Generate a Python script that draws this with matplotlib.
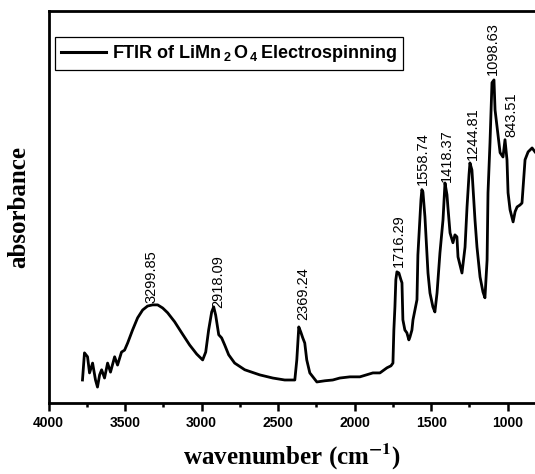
import matplotlib
matplotlib.use("Agg")
import matplotlib.pyplot as plt
from matplotlib.ticker import MultipleLocator

plt.rcParams['mathtext.fontset'] = 'custom'
plt.rcParams['mathtext.rm'] = 'Liberation Sans:bold'
plt.rcParams['mathtext.it'] = 'Liberation Sans:bold'
plt.rcParams['mathtext.bf'] = 'Liberation Sans:bold'
plt.rcParams['mathtext.default'] = 'rm'

# ---- data ----
wavenumber = [3778, 3765, 3745, 3732, 3712, 3693, 3680, 3666, 3653, 3634, 3614, 3595,
              3568, 3549, 3523, 3503, 3483, 3451, 3418, 3385, 3353, 3320, 3287, 3254,
              3222, 3176, 3130, 3078, 3032, 2993, 2973, 2954, 2934, 2921, 2908, 2888,
              2869, 2849, 2823, 2784, 2718, 2620, 2535, 2457, 2391, 2378, 2365, 2352,
              2339, 2326, 2313, 2293, 2247, 2195, 2143, 2097, 2031, 1966, 1881, 1835,
              1789, 1763, 1750, 1744, 1737, 1731, 1724, 1711, 1698, 1691, 1685, 1672,
              1659, 1646, 1639, 1626, 1619, 1606, 1593, 1587, 1574, 1567, 1561, 1554,
              1541, 1521, 1508, 1489, 1476, 1462, 1443, 1423, 1410, 1397, 1391, 1377,
              1358, 1345, 1332, 1325, 1312, 1299, 1279, 1266, 1253, 1247, 1234, 1227,
              1214, 1201, 1181, 1162, 1149, 1135, 1129, 1116, 1103, 1090, 1083, 1070,
              1050, 1031, 1018, 1005, 998, 985, 965, 952, 939, 920, 907, 887, 867, 841, 822]
absorbance = [0.061, 0.130, 0.120, 0.079, 0.104, 0.061, 0.043, 0.074, 0.087, 0.066, 0.104, 0.081,
              0.120, 0.099, 0.132, 0.137, 0.155, 0.188, 0.219, 0.239, 0.249, 0.252, 0.252, 0.244,
              0.232, 0.209, 0.181, 0.150, 0.127, 0.112, 0.132, 0.188, 0.234, 0.247, 0.226, 0.176,
              0.168, 0.150, 0.125, 0.104, 0.087, 0.074, 0.066, 0.061, 0.061, 0.112, 0.196, 0.183,
              0.168, 0.155, 0.112, 0.079, 0.056, 0.059, 0.061, 0.066, 0.069, 0.069, 0.079, 0.079,
              0.092, 0.097, 0.104, 0.188, 0.247, 0.316, 0.336, 0.333, 0.316, 0.308, 0.214, 0.188,
              0.181, 0.163, 0.170, 0.188, 0.214, 0.239, 0.265, 0.379, 0.468, 0.519, 0.545, 0.539,
              0.476, 0.333, 0.282, 0.247, 0.234, 0.282, 0.384, 0.468, 0.562, 0.532, 0.501, 0.435,
              0.410, 0.430, 0.425, 0.374, 0.354, 0.333, 0.399, 0.501, 0.583, 0.613, 0.595, 0.552,
              0.468, 0.399, 0.323, 0.285, 0.270, 0.366, 0.537, 0.664, 0.817, 0.824, 0.748, 0.705,
              0.639, 0.628, 0.672, 0.621, 0.537, 0.494, 0.463, 0.489, 0.501, 0.506, 0.511, 0.621,
              0.641, 0.651, 0.641]

peak_labels = ["3299.85", "2918.09", "2369.24", "1716.29", "1558.74",
               "1418.37", "1244.81", "1098.63", "843.51"]
peak_label_x = [3326, 2888, 2339, 1711, 1554, 1397, 1227, 1096, 979]
peak_label_y = [0.257, 0.244, 0.214, 0.349, 0.557, 0.565, 0.621, 0.837, 0.679]

xticks = [4000, 3500, 3000, 2500, 2000, 1500, 1000]

# ---- figure ----
fig = plt.figure(figsize=(5.35, 4.74), dpi=100)
ax = fig.add_axes([48.5 / 535, 71 / 474, 1 - 48.5 / 535, 392.3 / 474])

ax.plot(wavenumber, absorbance, color='black', lw=2.0,
        label=r'FTIR of LiMn$_{\,2\;}$O$_{\,4\;}$Electrospinning')

for lab, x, y in zip(peak_labels, peak_label_x, peak_label_y):
    ax.text(x, y, lab, rotation=90, ha='center', va='bottom',
            fontsize=10.5, family='Liberation Sans')

ax.set_xlim(4000, 822)
ax.set_ylim(0.0025, 1.0)
ax.set_xticks(xticks)
ax.set_xticklabels([str(t) for t in xticks])
ax.xaxis.set_minor_locator(MultipleLocator(250))
ax.set_yticks([])

for side in ['left', 'top', 'bottom']:
    ax.spines[side].set_linewidth(2)
ax.spines['right'].set_visible(False)

ax.tick_params(axis='x', which='major', direction='out', length=5.5, width=1.8,
               pad=4, labelsize=10)
ax.tick_params(axis='x', which='minor', direction='out', length=3, width=1.8)
ax.tick_params(axis='x', which='both', top=False)
for lbl in ax.get_xticklabels():
    lbl.set_fontfamily('Liberation Sans')
    lbl.set_fontweight('bold')

ax.set_xlabel(r'wavenumber (cm$^{\mathbf{-1}}$)', fontsize=18,
              family='Liberation Serif', fontweight='bold', labelpad=8,
              math_fontfamily='stix')
ax.set_ylabel('absorbance', fontsize=18, family='Liberation Serif',
              fontweight='bold', labelpad=13)

leg = ax.legend(loc='upper left', bbox_to_anchor=(0.0134, 0.9337), borderaxespad=0,
                prop={'family': 'Liberation Sans', 'weight': 'bold', 'size': 13},
                frameon=True, fancybox=False, framealpha=1, handlelength=2.5,
                handletextpad=0.3, borderpad=0.35)
leg.get_frame().set_edgecolor('black')
leg.get_frame().set_linewidth(0.9)
leg.get_lines()[0].set_linewidth(2.2)

fig.savefig('out.png', dpi=100)
